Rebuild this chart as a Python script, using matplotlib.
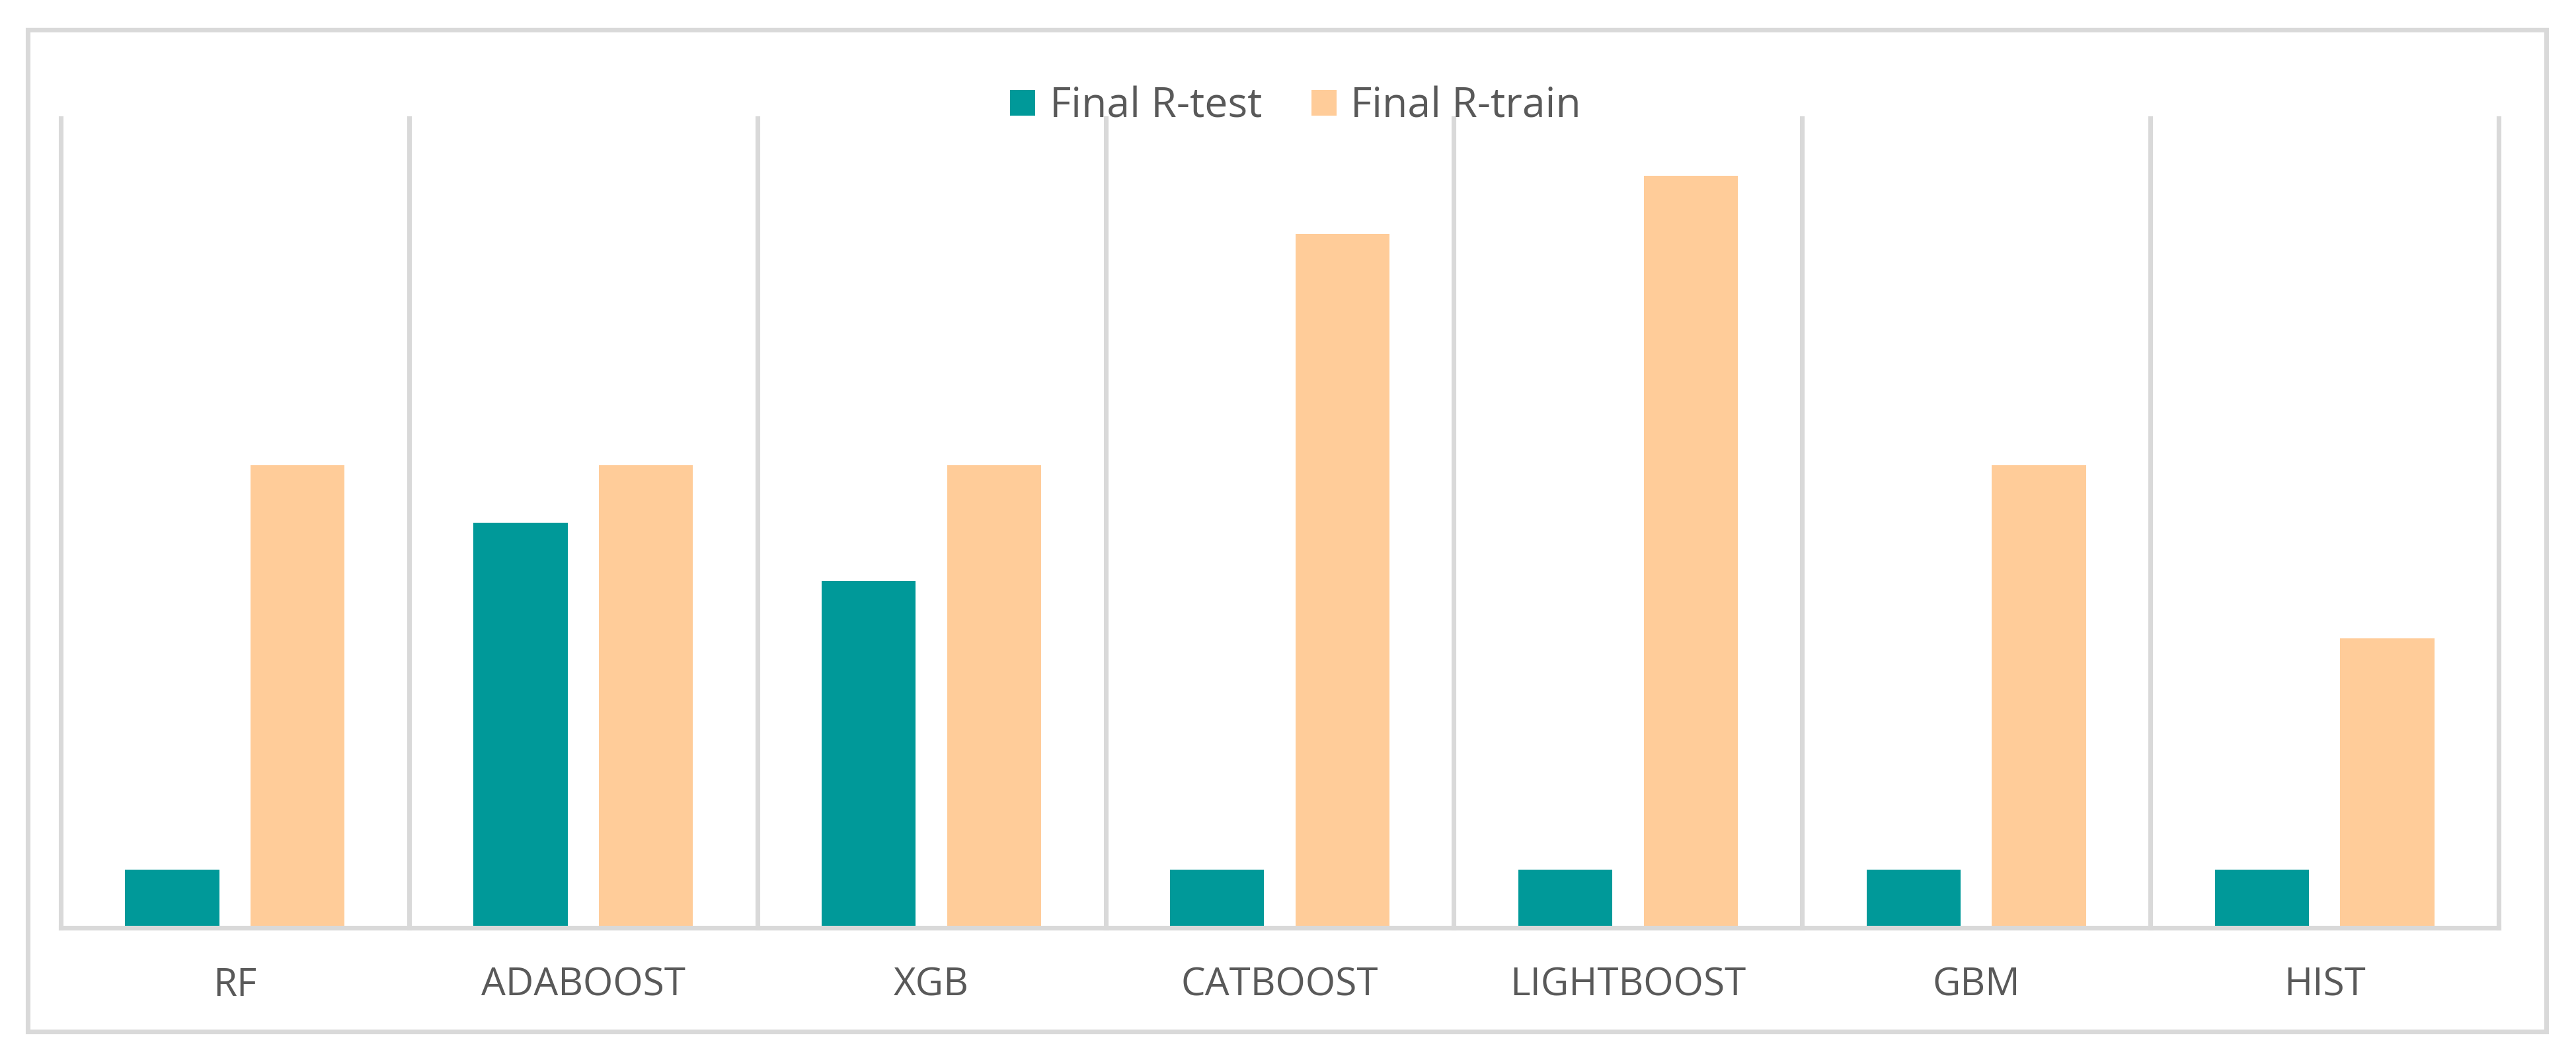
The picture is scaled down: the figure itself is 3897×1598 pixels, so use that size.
import matplotlib.pyplot as plt
import numpy as np
from matplotlib.patches import Rectangle

plt.rcParams['font.family'] = ['Open Sans', 'DejaVu Sans']

# data
models = ["RF", "ADABOOST", "XGB", "CATBOOST", "LIGHTBOOST", "GBM", "HIST"]
r_test = [1, 7, 6, 1, 1, 1, 1]
r_train = [8, 8, 8, 12, 13, 8, 5]

grey = '#D9D9D9'
txt = '#595959'

fig = plt.figure(figsize=(12.99, 5.327), dpi=300)
ax = fig.add_axes([0.0236, 0.1214, 0.9464, 0.7666])

x = np.arange(len(models))
w = 0.27
ax.bar(x - 0.18, r_test, w, color='#009999', label='Final R-test', zorder=2)
ax.bar(x + 0.18, r_train, w, color='#FFCC99', label='Final R-train', zorder=2)

ax.set_xlim(-0.5, len(models) - 0.5)
ax.set_ylim(0, 14)

# category separators
for b in np.arange(-0.5, len(models)):
    ax.axvline(b, color=grey, lw=1.7, zorder=1, clip_on=False)

for s in ['top', 'left', 'right']:
    ax.spines[s].set_visible(False)
ax.spines['bottom'].set_color(grey)
ax.spines['bottom'].set_linewidth(1.7)
ax.spines['bottom'].set_zorder(3)

ax.set_yticks([])
ax.set_xticks(x)
ax.set_xticklabels(models, fontsize=14, color=txt)
ax.tick_params(axis='x', length=0, pad=14)

fig.legend(loc='center', bbox_to_anchor=(0.503, 0.899), ncol=2, frameon=False,
           fontsize=15, labelcolor=txt, handlelength=0.6, handleheight=0.6,
           handletextpad=0.35, columnspacing=1.2)

# outer chart border
fig.patches.append(Rectangle((0.0108, 0.023), 0.9776, 0.949, transform=fig.transFigure,
                             fill=False, edgecolor=grey, lw=1.7))

fig.savefig('out.png', dpi=300)
